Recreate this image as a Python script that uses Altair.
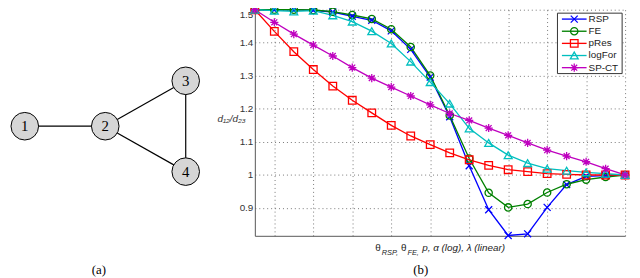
import altair as alt
import pandas as pd

# ---------------- data ----------------
series = ["RSP", "FE", "pRes", "logFor", "SP-CT"]
colors = ["#0000ff", "#008000", "#ff0000", "#00bfbf", "#bf00bf"]
x_idx = list(range(20))

rsp = [1.5, 1.5, 1.5, 1.498, 1.493, 1.480, 1.468, 1.436, 1.380, 1.296,
       1.176, 1.028, 0.895, 0.817, 0.822, 0.902, 0.971, 0.996, 0.998, 1.0]
fe = [1.5, 1.5, 1.5, 1.499, 1.494, 1.484, 1.472, 1.441, 1.387, 1.301,
      1.180, 1.050, 0.946, 0.902, 0.912, 0.947, 0.972, 0.986, 0.994, 1.0]
pres = [1.5, 1.4345, 1.373, 1.319, 1.269, 1.226, 1.188, 1.150, 1.118, 1.092,
        1.067, 1.046, 1.029, 1.016, 1.010, 1.004, 1.002, 1.0, 1.0, 1.0]
logfor = [1.5, 1.497, 1.495, 1.497, 1.483, 1.464, 1.435, 1.398, 1.343, 1.281,
          1.216, 1.141, 1.097, 1.060, 1.036, 1.019, 1.013, 1.008, 1.004, 1.0]
spct = [1.5, 1.462, 1.426, 1.393, 1.360, 1.325, 1.293, 1.266, 1.239, 1.212,
        1.186, 1.165, 1.142, 1.120, 1.097, 1.075, 1.057, 1.040, 1.019, 1.0]

y_ticks = [0.9, 1.0, 1.1, 1.2, 1.3, 1.4, 1.5]
x_ticks = [1, 3, 5, 7, 9, 11, 13, 15, 17, 19]

# graph (panel a)
node_ids = ["1", "2", "3", "4"]
node_gx = [0, 1, 2, 2]
node_gy = [0, 0, 1, -1]
edges = [("1", "2"), ("2", "3"), ("2", "4"), ("3", "4")]

# marker shapes (matlab style)
x_path = "M-1,-1L1,1M-1,1L1,-1"
star_path = "M-1,0L1,0M0,-1L0,1M-0.72,-0.72L0.72,0.72M-0.72,0.72L0.72,-0.72"
shapes = [x_path, "circle", "square", "triangle-up", star_path]
sizes = [50, 68, 62, 90, 170]

# ---------------- tables ----------------
vals = {"RSP": rsp, "FE": fe, "pRes": pres, "logFor": logfor, "SP-CT": spct}
rows = []
for s in series:
    for xi, v in zip(x_idx, vals[s]):
        rows.append({"series": s, "x": xi, "v": v})
df = pd.DataFrame(rows)

nodes = pd.DataFrame({"id": node_ids, "gx": node_gx, "gy": node_gy})
pos = {i: (gx, gy) for i, gx, gy in zip(node_ids, node_gx, node_gy)}
edf = pd.DataFrame([{"gx": pos[a][0], "gy": pos[a][1], "gx2": pos[b][0], "gy2": pos[b][1]}
                    for a, b in edges])
leg = pd.DataFrame({"series": series})

FONT = "Liberation Sans"
color_enc = alt.Color("series:N", scale=alt.Scale(domain=series, range=colors), legend=None)
shape_enc = alt.Shape("series:N", scale=alt.Scale(domain=series, range=shapes), legend=None)
size_enc = alt.Size("series:N", scale=alt.Scale(domain=series, range=sizes), legend=None)

xenc = alt.X("x:Q", scale=alt.Scale(domain=[0, 19], nice=False, zero=False),
             axis=alt.Axis(values=x_ticks, labels=False, ticks=False, title=None,
                           grid=True, gridDash=[1, 3], gridColor="#777",
                           domainColor="#555"))
yenc = alt.Y("v:Q", scale=alt.Scale(domain=[0.816, 1.5], nice=False, zero=False),
             axis=alt.Axis(values=y_ticks, format="~g", ticks=False, labelPadding=2,
                           labelFlush=True, labelFont=FONT, labelFontSize=10,
                           labelColor="#333", grid=True, gridDash=[1, 3],
                           gridColor="#777", domainColor="#555",
                           title="d₁₂/d₂₃", titleAngle=0, titleX=-24, titleY=110,
                           titleAlign="center", titleBaseline="middle",
                           titleFont=FONT, titleFontStyle="italic",
                           titleFontWeight="normal", titleFontSize=10, titleColor="#333"))

lines = alt.Chart(df).mark_line(strokeWidth=1.35).encode(x=xenc, y=yenc, color=color_enc)
points = alt.Chart(df).mark_point(filled=False, strokeWidth=1.3, opacity=1).encode(
    x=xenc, y=yenc, color=color_enc, shape=shape_enc, size=size_enc)
main = alt.layer(lines, points)

# ---------------- graph panel (a) ----------------
gxs = alt.Scale(domain=[0, 2], range=[-233, -70])
gys = alt.Scale(domain=[-1, 1], range=[164, 72])
edge_marks = alt.Chart(edf).mark_rule(color="black", strokeWidth=1.2).encode(
    x=alt.X("gx:Q", scale=gxs, axis=None), y=alt.Y("gy:Q", scale=gys, axis=None),
    x2="gx2:Q", y2="gy2:Q")
node_marks = alt.Chart(nodes).mark_point(shape="circle", filled=True, fill="#d6d6d6",
                                         stroke="black", strokeWidth=1, size=780,
                                         opacity=1).encode(
    x=alt.X("gx:Q", scale=gxs, axis=None), y=alt.Y("gy:Q", scale=gys, axis=None))
node_text = alt.Chart(nodes).mark_text(font="Liberation Serif", fontSize=15,
                                       color="black", baseline="middle").encode(
    x=alt.X("gx:Q", scale=gxs, axis=None), y=alt.Y("gy:Q", scale=gys, axis=None),
    text="id:N")
graph = alt.layer(edge_marks, node_marks, node_text)

# ---------------- legend ----------------
lys = alt.Scale(type="point", domain=series, range=[9.5, 58.7], padding=0)
leg_box = alt.Chart().mark_rect(fill="white", stroke="#333", strokeWidth=1).encode(
    x=alt.value(306.5), x2=alt.value(372), y=alt.value(3.5), y2=alt.value(64.7))
leg_seg = alt.Chart(leg).mark_rule(strokeWidth=1.35).encode(
    y=alt.Y("series:N", scale=lys, axis=None), x=alt.value(311), x2=alt.value(336),
    color=color_enc)
leg_pt = alt.Chart(leg).mark_point(filled=False, strokeWidth=1.3, opacity=1).encode(
    y=alt.Y("series:N", scale=lys, axis=None), x=alt.value(323.5),
    color=color_enc, shape=shape_enc, size=size_enc)
leg_txt = alt.Chart(leg).mark_text(align="left", baseline="middle", font=FONT,
                                   fontSize=10, color="#222").encode(
    y=alt.Y("series:N", scale=lys, axis=None), x=alt.value(338), text="series:N")
legend = alt.layer(leg_box, leg_seg, leg_pt, leg_txt)

# ---------------- annotations ----------------
def txt(t, x, y, size, style="normal", font=FONT, align="left", color="#222"):
    return alt.Chart().mark_text(text=t, align=align, baseline="middle", font=font,
                                 fontSize=size, fontStyle=style, color=color).encode(
        x=alt.value(x), y=alt.value(y))

ann = alt.layer(
    txt("θ", 122, 241, 10),
    txt("RSP,", 128.5, 246, 7.5, "italic"),
    txt("θ", 148, 241, 10),
    txt("FE,", 154.5, 246, 7.5, "italic"),
    txt("p, α  (log), λ  (linear)", 169.5, 241, 10, "italic"),
    txt("(a)", -158, 264, 13, font="Liberation Serif", align="center", color="black"),
    txt("(b)", 168, 264, 13, font="Liberation Serif", align="center", color="black"),
)

chart = alt.layer(main, graph, legend, ann).resolve_scale(
    x="independent", y="independent"
).properties(
    width=375, height=229,
    autosize=alt.AutoSizeParams(type="none"),
    padding={"left": 250, "top": 0, "right": 7, "bottom": 41},
).configure_view(stroke=None)

chart.save("out.html", embed_options={"renderer": "svg", "actions": False})
